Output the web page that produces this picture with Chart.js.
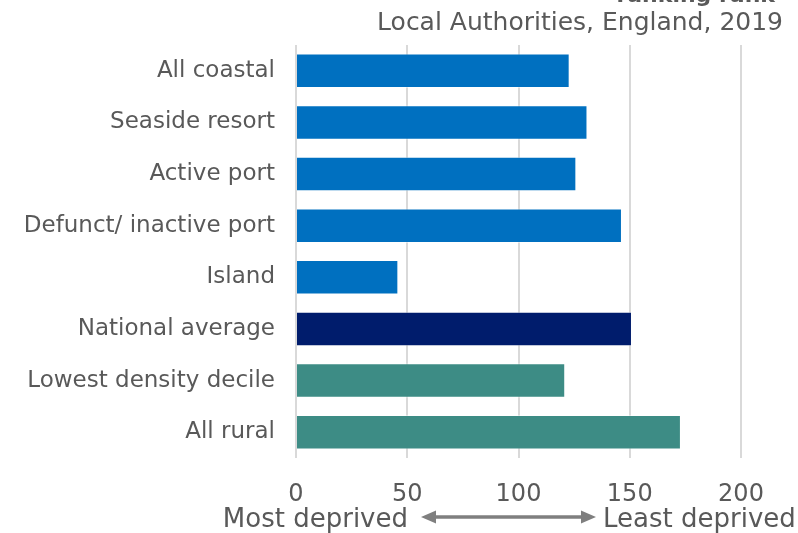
<!DOCTYPE html>
<html>
<head>
<meta charset="utf-8">
<script src="https://cdn.jsdelivr.net/npm/chart.js@4.4.0/dist/chart.umd.min.js"></script>
<style>
  html, body { margin: 0; padding: 0; background: #fff; }
  #wrap { width: 798px; height: 533px; position: relative; }
</style>
</head>
<body>
<div id="wrap"><canvas id="graph"></canvas></div>
<script>
const categories = ['All coastal', 'Seaside resort', 'Active port', 'Defunct/ inactive port',
                    'Island', 'National average', 'Lowest density decile', 'All rural'];
const ranks = [123, 131, 126, 146.5, 46, 151, 121, 173];
const barColours = ['#0070C0', '#0070C0', '#0070C0', '#0070C0', '#0070C0',
                    '#001C6C', '#3D8C85', '#3D8C85'];
const xTicks = [0, 50, 100, 150, 200];

const FONT = '"DejaVu Sans", sans-serif';
const GREY = '#595959';

// titles above the plot and the deprived/least deprived arrow below it
const extraText = {
    id: 'extraText',
    afterDraw(chart) {
        const ctx = chart.ctx;
        ctx.save();
        ctx.fillStyle = GREY;
        ctx.textAlign = 'right';
        ctx.textBaseline = 'alphabetic';
        ctx.font = 'bold 22px ' + FONT;
        ctx.fillText('ranking rank', 775, 2);
        ctx.font = '25px ' + FONT;
        ctx.fillText('Local Authorities, England, 2019', 783, 30);

        ctx.font = '26px ' + FONT;
        ctx.textAlign = 'right';
        ctx.fillText('Most deprived', 408, 527);
        ctx.textAlign = 'left';
        ctx.fillText('Least deprived', 603, 527);

        // double-headed arrow
        const y = 517, x1 = 421, x2 = 596;
        ctx.strokeStyle = '#7f7f7f';
        ctx.fillStyle = '#7f7f7f';
        ctx.lineWidth = 3.5;
        ctx.beginPath();
        ctx.moveTo(x1 + 10, y);
        ctx.lineTo(x2 - 10, y);
        ctx.stroke();
        ctx.beginPath();
        ctx.moveTo(x1, y);
        ctx.lineTo(x1 + 15, y - 6.5);
        ctx.lineTo(x1 + 15, y + 6.5);
        ctx.closePath();
        ctx.fill();
        ctx.beginPath();
        ctx.moveTo(x2, y);
        ctx.lineTo(x2 - 15, y - 6.5);
        ctx.lineTo(x2 - 15, y + 6.5);
        ctx.closePath();
        ctx.fill();
        ctx.restore();
    }
};

new Chart(document.getElementById('graph'), {
    type: 'bar',
    data: {
        labels: categories,
        datasets: [{
            data: ranks,
            backgroundColor: barColours,
            borderColor: 'rgba(255,255,255,0.45)',
            borderWidth: 1,
            barPercentage: 0.67,
            categoryPercentage: 1.0
        }]
    },
    options: {
        indexAxis: 'y',
        responsive: true,
        maintainAspectRatio: false,
        animation: false,
        layout: { padding: { top: 45, right: 57, left: 0, bottom: 0 } },
        plugins: { legend: { display: false }, tooltip: { enabled: false } },
        scales: {
            x: {
                min: 0,
                max: 200,
                afterBuildTicks: (scale) => { scale.ticks = xTicks.map(v => ({ value: v })); },
                afterFit: (scale) => { scale.height = 75; },
                grid: { color: '#d9d9d9', lineWidth: 2, drawTicks: false },
                border: { display: false },
                ticks: { color: GREY, font: { family: FONT, size: 24 }, padding: 22 }
            },
            y: {
                afterFit: (scale) => { scale.width = 296; },
                grid: { display: false, drawTicks: false },
                border: { display: false },
                ticks: { color: GREY, font: { family: FONT, size: 23 }, padding: 21 }
            }
        }
    },
    plugins: [extraText]
});
</script>
</body>
</html>
